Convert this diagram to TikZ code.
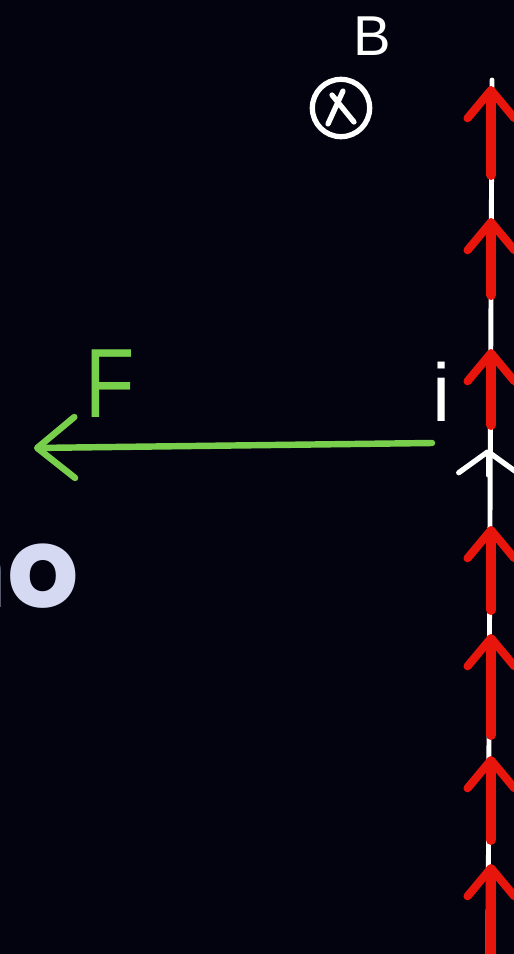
\documentclass[tikz,border=0pt]{standalone}
\usepackage{fontspec}
\setmainfont{Liberation Sans}
\newfontfamily\bigfont{Poppins}
\usetikzlibrary{arrows.meta}
\definecolor{boardbg}{HTML}{03020F}
\definecolor{currred}{HTML}{E8150D}
\definecolor{forcegreen}{HTML}{78CF4C}
\definecolor{slidetext}{HTML}{D5D9F1}

\begin{document}
\begin{tikzpicture}[x=0.03cm, y=-0.03cm,
    wire/.style={draw=white, line width=4.2pt, line cap=round},
    currarrow/.style={draw=currred, line width=8.5pt, line cap=round, line join=round,
      -{Straight Barb[length=24pt, width=40pt, line width=7pt, round]}},
    forcearrow/.style={draw=forcegreen, line width=5.5pt, line cap=round, line join=round,
      -{Straight Barb[length=32pt, width=52pt, line width=5.5pt, round]}},
    hand/.style={font=\fontsize{#1}{#1}\selectfont, inner sep=0pt}]
  \clip (0,0) rectangle (514,954);
  \fill[boardbg] (0,0) rectangle (514,954);
  % slide text cut at the left edge
  \node[anchor=base east, inner sep=0pt, text=slidetext,
    font=\bigfont\bfseries\fontsize{96}{96}\selectfont] (no) at (79,607) {n\kern0pt o};
  % field into the board
  \node[hand=48, text=white] (B) at (372,36) {B};
  \node[draw=white, line width=4.5pt, circle, minimum size=1.72cm, inner sep=0pt] (into) at (341,108) {};
  \draw[white, line width=4.5pt, line cap=round] (332,95) -- (354,122) (343,91) -- (328,124);
  % wire with current i
  \coordinate (wtop) at (492,80);
  \coordinate (wbot) at (488,954);
  \coordinate (wmid) at (488,449);
  \draw[wire] (wtop) -- (wbot);
  \draw[wire, -{Straight Barb[length=18pt, width=50pt, line width=4.5pt, round]}] (488,475) -- (wmid);
  \node[hand=70, text=white] (i) at (442,392) {i};
  % current arrows along the wire
  \foreach \tail/\tip in {175/86, 295/218, 425/349, 610/526, 735/634, 840/756, 954/864}
    \draw[currarrow] (491,\tail) -- (491,\tip);
  % force on the wire
  \coordinate (fstart) at (432,443);
  \coordinate (fend) at (34,448);
  \draw[forcearrow] (fstart) -- (fend);
  \node[hand=84, text=forcegreen, xscale=0.82] (F) at (110,384) {F};
\end{tikzpicture}
\end{document}
